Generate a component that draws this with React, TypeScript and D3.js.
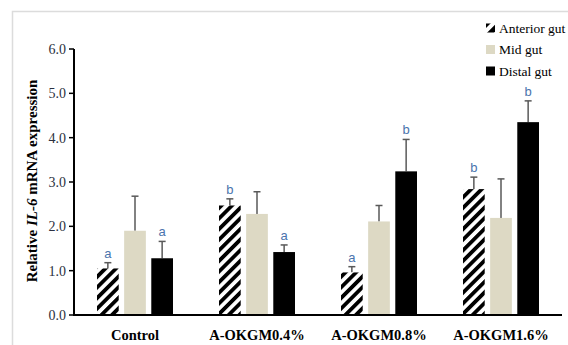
import * as d3 from "d3";

const groups = ["Control", "A-OKGM0.4%", "A-OKGM0.8%", "A-OKGM1.6%"];
const series = ["Anterior gut", "Mid gut", "Distal gut"];
const anterior = [1.05, 2.47, 0.96, 2.84];
const mid = [1.9, 2.28, 2.11, 2.19];
const distal = [1.28, 1.42, 3.24, 4.35];
const anteriorErr = [0.13, 0.15, 0.13, 0.27];
const midErr = [0.78, 0.5, 0.36, 0.88];
const distalErr = [0.38, 0.16, 0.72, 0.48];
const anteriorSig = ["a", "b", "a", "b"];
const midSig = ["", "", "", ""];
const distalSig = ["a", "a", "b", "b"];
const yTicks = [0, 1, 2, 3, 4, 5, 6];

const W = 568, H = 345;
const colors = ["url(#hatch)", "#ddd9c4", "#000000"];

export default function App() {
  const x = d3.scaleBand().domain(groups).range([74, 562]);
  const xi = d3.scaleBand().domain(series).range([0, 76]).paddingInner(0.2);
  const y = d3.scaleLinear().domain([0, 6]).range([315, 49]);

  const vals = [anterior, mid, distal];
  const errs = [anteriorErr, midErr, distalErr];
  const sigs = [anteriorSig, midSig, distalSig];

  const bars = groups.flatMap((g, gi) =>
    series.map((s, si) => ({
      g, s, si,
      v: vals[si][gi],
      e: errs[si][gi],
      sig: sigs[si][gi],
      x0: (x(g) as number) + x.bandwidth() / 2 - 38 + (xi(s) as number),
    }))
  );

  const serif = { fontFamily: "'Liberation Serif', Tinos, 'Times New Roman', 'DejaVu Serif', serif" };

  return (
    <svg width={W} height={H} style={{ position: "absolute", left: 0, top: 0 }}>
      <defs>
        <pattern id="hatch" patternUnits="userSpaceOnUse" width={7.5} height={7.5} patternTransform="rotate(45)">
          <rect width={7.5} height={7.5} fill="#fff" />
          <rect width={3.8} height={7.5} fill="#000" />
        </pattern>
        <pattern id="hatchLegend" patternUnits="userSpaceOnUse" width={9} height={9} patternTransform="rotate(45)">
          <rect width={9} height={9} fill="#000" />
          <rect x={0} width={4} height={9} fill="#fff" />
        </pattern>
      </defs>
      <rect x={0} y={0} width={W} height={H} fill="#fff" />
      <path d={`M12.5,${H} V11.5 H${W}`} fill="none" stroke="#dcdcdc" strokeWidth={1.5} />

      {bars.map((b, i) => (
        <g key={i}>
          <line
            x1={b.x0 + xi.bandwidth() / 2}
            x2={b.x0 + xi.bandwidth() / 2}
            y1={y(b.v)}
            y2={y(b.v + b.e)}
            stroke="#595959"
            strokeWidth={1.5}
          />
          <line
            x1={b.x0 + xi.bandwidth() / 2 - 3.5}
            x2={b.x0 + xi.bandwidth() / 2 + 3.5}
            y1={y(b.v + b.e)}
            y2={y(b.v + b.e)}
            stroke="#595959"
            strokeWidth={1.5}
          />
          <rect x={b.x0} y={y(b.v)} width={xi.bandwidth()} height={y(0) - y(b.v)} fill={colors[b.si]} />
          {b.sig && (
            <text
              x={b.x0 + xi.bandwidth() / 2}
              y={y(b.v + b.e) - 5}
              textAnchor="middle"
              style={{ fontFamily: "'Liberation Sans', Arial, sans-serif" }}
              fontSize={13}
              fill="#4a74ad"
            >
              {b.sig}
            </text>
          )}
        </g>
      ))}

      <line x1={74} x2={74} y1={y(6)} y2={y(0)} stroke="#000" strokeWidth={2} />
      <line x1={73} x2={562} y1={y(0)} y2={y(0)} stroke="#000" strokeWidth={2} />
      {yTicks.map((t) => (
        <g key={t}>
          <line x1={69} x2={74} y1={y(t)} y2={y(t)} stroke="#000" strokeWidth={1.5} />
          <text x={66} y={y(t)} dy="0.35em" textAnchor="end" style={serif} fontSize={14} fill="#2b3040">
            {t.toFixed(1)}
          </text>
        </g>
      ))}
      {groups.map((g) => (
        <text
          key={g}
          x={(x(g) as number) + x.bandwidth() / 2}
          y={340}
          textAnchor="middle"
          style={serif}
          fontSize={14.5}
          fontWeight="bold"
          fill="#000"
        >
          {g}
        </text>
      ))}
      <text
        transform="translate(37,181) rotate(-90)"
        textAnchor="middle"
        style={serif}
        fontSize={15}
        fontWeight="bold"
        fill="#000"
      >
        Relative <tspan fontStyle="italic">IL-6</tspan> mRNA expression
      </text>

      {series.map((s, i) => (
        <g key={s} transform={`translate(486,${28 + i * 21.5})`}>
          <rect x={0} y={-4.5} width={9} height={9} fill={i === 0 ? "url(#hatchLegend)" : colors[i]} />
          <text x={13} y={0} dy="0.35em" style={serif} fontSize={13.5} fill="#000">
            {s}
          </text>
        </g>
      ))}
    </svg>
  );
}
